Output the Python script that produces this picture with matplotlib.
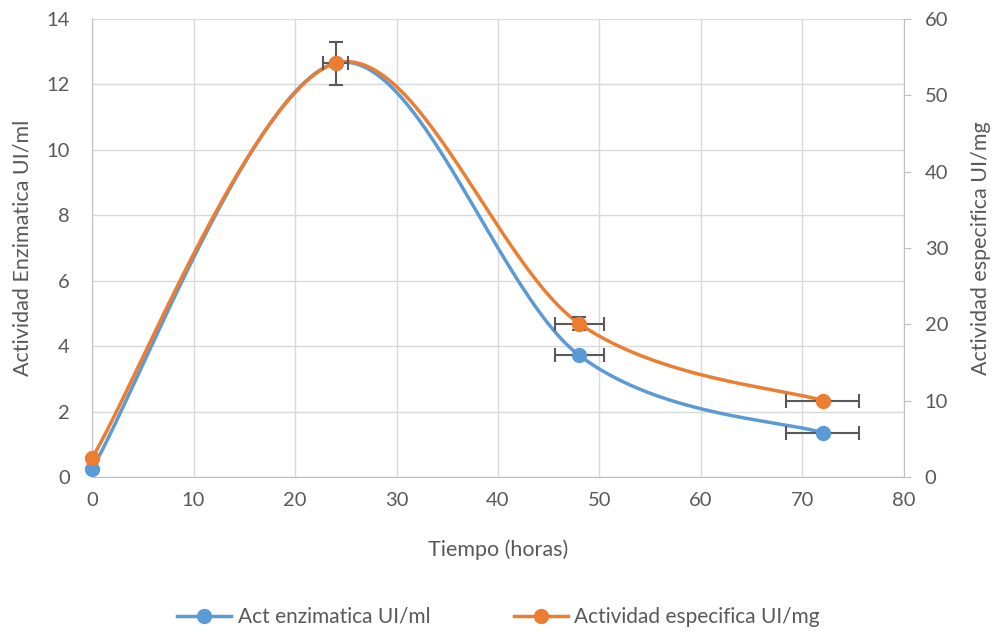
import matplotlib.pyplot as plt
import numpy as np

# Data
tiempo = [0, 24, 48, 72]
act_enzimatica = [0.25, 12.65, 3.72, 1.35]        # UI/ml, left axis
act_especifica = [2.5, 54.2, 20.1, 10.0]          # UI/mg, right axis
xerr_h = [0, 1.2, 2.4, 3.6]
yerr_esp = [0, 2.8, 0.9, 0]

blue = '#5B9BD5'
orange = '#ED7D31'
err_col = '#595959'
grid_col = '#D9D9D9'
txt_col = '#595959'

plt.rcParams['font.family'] = ['Lato', 'DejaVu Sans']


def smooth(x, y, n=60):
    # Excel style smoothed line (Catmull-Rom bezier)
    x = np.asarray(x, float)
    y = np.asarray(y, float)
    px = np.concatenate([[x[0]], x, [x[-1]]])
    py = np.concatenate([[y[0]], y, [y[-1]]])
    xs, ys = [], []
    t = np.linspace(0, 1, n)
    for i in range(1, len(px) - 2):
        p0 = np.array([px[i], py[i]])
        p3 = np.array([px[i + 1], py[i + 1]])
        c1 = p0 + (p3 - np.array([px[i - 1], py[i - 1]])) / 6
        c2 = p3 - (np.array([px[i + 2], py[i + 2]]) - p0) / 6
        b = ((1 - t) ** 3)[:, None] * p0 + (3 * (1 - t) ** 2 * t)[:, None] * c1 \
            + (3 * (1 - t) * t ** 2)[:, None] * c2 + (t ** 3)[:, None] * p3
        xs.extend(b[:, 0])
        ys.extend(b[:, 1])
    return xs, ys


fig = plt.figure(figsize=(9.97, 6.34), dpi=100)
ax = fig.add_axes([0.0923, 0.2476, 0.8144, 0.7224])
ax2 = ax.twinx()

ax.set_xlim(0, 80)
ax.set_ylim(0, 14)
ax2.set_ylim(0, 60)
ax.set_xticks(range(0, 81, 10))
ax.set_yticks(range(0, 15, 2))
ax2.set_yticks(range(0, 61, 10))

ax.grid(True, color=grid_col, linewidth=1)
ax.set_axisbelow(True)

for a in (ax, ax2):
    for s in a.spines.values():
        s.set_visible(False)
ax.spines['left'].set_visible(True)
ax.spines['left'].set_color('#BFBFBF')
ax.spines['bottom'].set_visible(True)
ax.spines['bottom'].set_color('#BFBFBF')
ax2.spines['right'].set_visible(True)
ax2.spines['right'].set_color('#BFBFBF')

ax.tick_params(axis='both', length=0, labelsize=14.5, labelcolor=txt_col)
ax.tick_params(axis='y', pad=16)
ax.tick_params(axis='x', pad=11)
ax2.tick_params(axis='y', length=5, color='#BFBFBF', labelsize=14.5,
                labelcolor=txt_col, pad=10)

# blue series
sx, sy = smooth(tiempo, act_enzimatica)
ax.plot(sx, sy, color=blue, linewidth=2.5, zorder=3, clip_on=False)
ax.errorbar(tiempo[2:], act_enzimatica[2:], xerr=xerr_h[2:], fmt='none',
            ecolor=err_col, elinewidth=1.5, capsize=5, capthick=1.5, zorder=4)
ax.plot(tiempo, act_enzimatica, 'o', color=blue, markersize=10, zorder=5,
        clip_on=False)

# orange series
sx, sy = smooth(tiempo, act_especifica)
ax2.plot(sx, sy, color=orange, linewidth=2.5, zorder=3, clip_on=False)
ax2.errorbar(tiempo[1:], act_especifica[1:], xerr=xerr_h[1:], yerr=yerr_esp[1:],
             fmt='none', ecolor=err_col, elinewidth=1.5, capsize=5,
             capthick=1.5, zorder=4)
ax2.plot(tiempo, act_especifica, 'o', color=orange, markersize=10, zorder=5,
         clip_on=False)

ax.set_xlabel('Tiempo (horas)', fontsize=15.5, color=txt_col, labelpad=22)
ax.set_ylabel('Actividad Enzimatica UI/ml', fontsize=15.5, color=txt_col, labelpad=10)
ax2.set_ylabel('Actividad especifica UI/mg', fontsize=15.5, color=txt_col, labelpad=16)

h1 = plt.Line2D([], [], color=blue, linewidth=2.5, marker='o', markersize=10)
h2 = plt.Line2D([], [], color=orange, linewidth=2.5, marker='o', markersize=10)
fig.legend([h1, h2], ['Act enzimatica UI/ml', 'Actividad especifica UI/mg'],
           loc='center', bbox_to_anchor=(0.5, 0.027), ncol=2, frameon=False,
           fontsize=15, labelcolor=txt_col, columnspacing=4, handlelength=2.6,
           handletextpad=0.3)

fig.savefig('out.png', dpi=100)
